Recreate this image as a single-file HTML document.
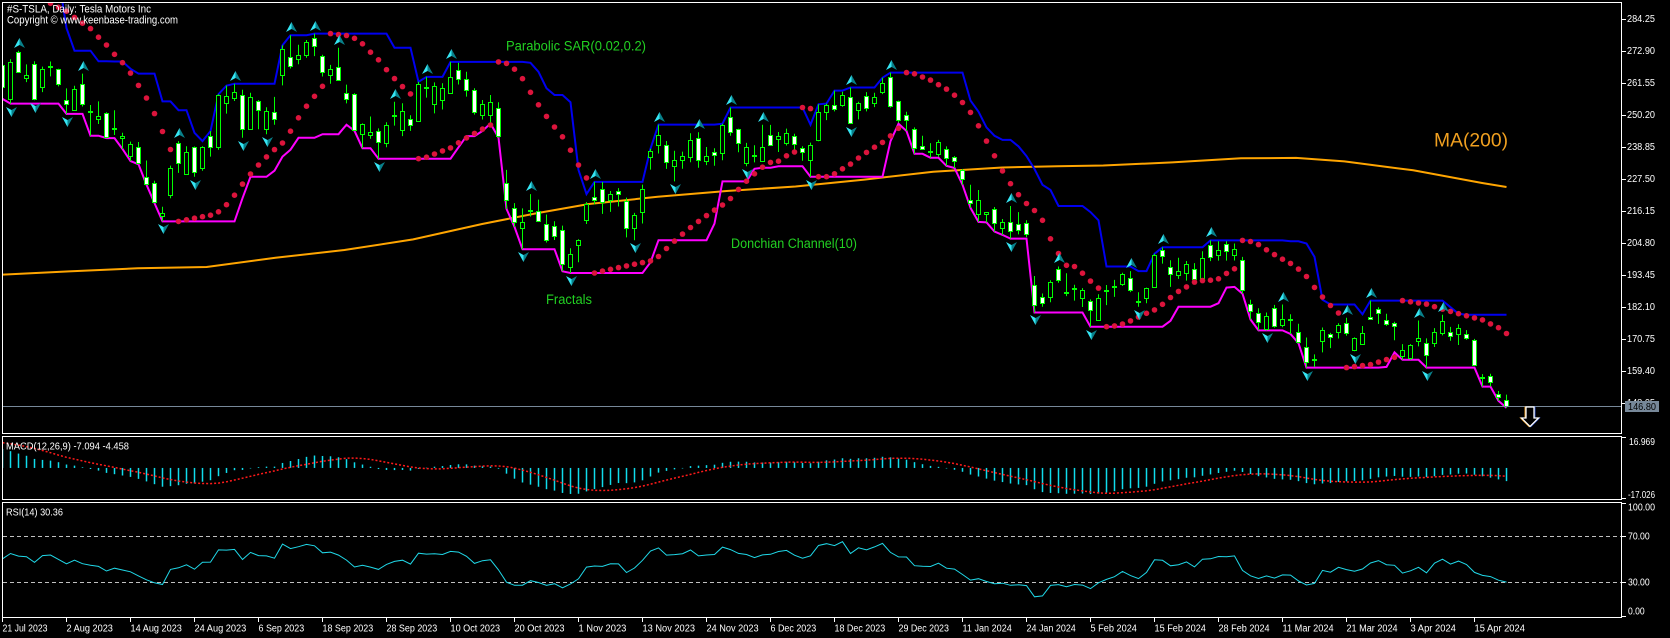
<!DOCTYPE html>
<html><head><meta charset="utf-8">
<style>
html,body{margin:0;padding:0;background:#000;width:1670px;height:638px;overflow:hidden}
svg{display:block}
text{font-family:"Liberation Sans",Arial,sans-serif}
</style></head><body>
<svg id="s" xmlns="http://www.w3.org/2000/svg" width="1670" height="638" viewBox="0 0 1670 638">
<rect width="1670" height="638" fill="#000"/>
<defs>
<clipPath id="cm"><rect x="3" y="3" width="1618.5" height="430"/></clipPath>
<clipPath id="cd"><rect x="3" y="437" width="1618.5" height="62"/></clipPath>
<clipPath id="cr"><rect x="3" y="503" width="1618.5" height="114"/></clipPath>
</defs>
<g id="gm" clip-path="url(#cm)"></g>
<g id="gd" clip-path="url(#cd)"></g>
<g id="gr" clip-path="url(#cr)">
<line x1="3" y1="536.5" x2="1622" y2="536.5" stroke="#c0c0c0" stroke-width="1" stroke-dasharray="4,3"/>
<line x1="3" y1="582.5" x2="1622" y2="582.5" stroke="#c0c0c0" stroke-width="1" stroke-dasharray="4,3"/>
</g>
<line x1="3" y1="406.5" x2="1622" y2="406.5" stroke="#778899" stroke-width="1"/>
<g fill="none" stroke="#fff" stroke-width="1">
<rect x="2.5" y="2.5" width="1619" height="431"/>
<rect x="2.5" y="436.5" width="1619" height="63"/>
<rect x="2.5" y="502.5" width="1619" height="115"/>
</g>
<g id="ticks" stroke="#fff" stroke-width="1"></g>

<!-- big down arrow -->
<g>
<polygon points="1525,407 1533,407 1533,418 1537.5,418 1529,426.5 1520.5,418 1525,418" fill="none" stroke="#e89a20" stroke-width="1"/>
<polygon points="1527,407 1535,407 1535,418 1539.5,418 1531,426.5 1522.5,418 1527,418" fill="none" stroke="#3050c0" stroke-width="1"/>
<polygon points="1526,407 1534,407 1534,418 1538.5,418 1530,426.5 1521.5,418 1526,418" fill="#000" stroke="#fff" stroke-width="1.3"/>
</g>

<!-- header -->
<text x="7" y="12.5" font-size="11" fill="#fff" textLength="144" lengthAdjust="spacingAndGlyphs">#S-TSLA, Daily:  Tesla Motors Inc</text>
<text x="7" y="23.5" font-size="11" fill="#fff" textLength="171" lengthAdjust="spacingAndGlyphs">Copyright © www.keenbase-trading.com</text>

<!-- indicator labels -->
<text x="506" y="50.5" font-size="13.5" fill="#22d022" textLength="140" lengthAdjust="spacingAndGlyphs">Parabolic SAR(0.02,0.2)</text>
<text x="731" y="248" font-size="13.5" fill="#22d022" textLength="126" lengthAdjust="spacingAndGlyphs">Donchian Channel(10)</text>
<text x="546" y="304" font-size="13.5" fill="#22d022" textLength="46" lengthAdjust="spacingAndGlyphs">Fractals</text>
<text x="1434" y="146.5" font-size="19.5" fill="#f0a020" textLength="74" lengthAdjust="spacingAndGlyphs">MA(200)</text>

<!-- price axis -->
<g font-size="10" fill="#fff">
<text x="1627" y="22.2" textLength="28" lengthAdjust="spacingAndGlyphs">284.25</text>
<text x="1627" y="54.2" textLength="28" lengthAdjust="spacingAndGlyphs">272.90</text>
<text x="1627" y="86.2" textLength="28" lengthAdjust="spacingAndGlyphs">261.55</text>
<text x="1627" y="118.2" textLength="28" lengthAdjust="spacingAndGlyphs">250.20</text>
<text x="1627" y="150.2" textLength="28" lengthAdjust="spacingAndGlyphs">238.85</text>
<text x="1627" y="182.2" textLength="28" lengthAdjust="spacingAndGlyphs">227.50</text>
<text x="1627" y="214.2" textLength="28" lengthAdjust="spacingAndGlyphs">216.15</text>
<text x="1627" y="246.2" textLength="28" lengthAdjust="spacingAndGlyphs">204.80</text>
<text x="1627" y="278.2" textLength="28" lengthAdjust="spacingAndGlyphs">193.45</text>
<text x="1627" y="310.2" textLength="28" lengthAdjust="spacingAndGlyphs">182.10</text>
<text x="1627" y="342.2" textLength="28" lengthAdjust="spacingAndGlyphs">170.75</text>
<text x="1627" y="374.2" textLength="28" lengthAdjust="spacingAndGlyphs">159.40</text>
<text x="1627" y="406.2" textLength="28" lengthAdjust="spacingAndGlyphs">148.05</text>
</g>
<rect x="1625" y="401" width="34" height="11" fill="#778899"/>
<text x="1628" y="410" font-size="10" fill="#000" textLength="28" lengthAdjust="spacingAndGlyphs">146.80</text>

<!-- MACD / RSI labels -->
<text x="6" y="449.5" font-size="10.5" fill="#fff" textLength="123" lengthAdjust="spacingAndGlyphs">MACD(12,26,9) -7.094 -4.458</text>
<text x="6" y="515.5" font-size="10.5" fill="#fff" textLength="57" lengthAdjust="spacingAndGlyphs">RSI(14) 30.36</text>
<g font-size="10" fill="#fff">
<text x="1629" y="445" textLength="26" lengthAdjust="spacingAndGlyphs">16.969</text>
<text x="1628" y="498" textLength="27" lengthAdjust="spacingAndGlyphs">-17.026</text>
<text x="1628" y="510.7" textLength="27" lengthAdjust="spacingAndGlyphs">100.00</text>
<text x="1628" y="539.7" textLength="21.7" lengthAdjust="spacingAndGlyphs">70.00</text>
<text x="1628" y="585.7" textLength="21.7" lengthAdjust="spacingAndGlyphs">30.00</text>
<text x="1628" y="614.7" textLength="16.7" lengthAdjust="spacingAndGlyphs">0.00</text>
</g>

<!-- time axis -->
<g font-size="10" fill="#fff">
<text x="2.5" y="631.5" textLength="45" lengthAdjust="spacingAndGlyphs">21 Jul 2023</text>
<text x="66.5" y="631.5" textLength="46.4" lengthAdjust="spacingAndGlyphs">2 Aug 2023</text>
<text x="130.5" y="631.5" textLength="51.4" lengthAdjust="spacingAndGlyphs">14 Aug 2023</text>
<text x="194.5" y="631.5" textLength="51.8" lengthAdjust="spacingAndGlyphs">24 Aug 2023</text>
<text x="258.5" y="631.5" textLength="45.7" lengthAdjust="spacingAndGlyphs">6 Sep 2023</text>
<text x="322.5" y="631.5" textLength="50.7" lengthAdjust="spacingAndGlyphs">18 Sep 2023</text>
<text x="386.5" y="631.5" textLength="50.7" lengthAdjust="spacingAndGlyphs">28 Sep 2023</text>
<text x="450.5" y="631.5" textLength="49.6" lengthAdjust="spacingAndGlyphs">10 Oct 2023</text>
<text x="514.5" y="631.5" textLength="50" lengthAdjust="spacingAndGlyphs">20 Oct 2023</text>
<text x="578.5" y="631.5" textLength="47.9" lengthAdjust="spacingAndGlyphs">1 Nov 2023</text>
<text x="642.5" y="631.5" textLength="52.5" lengthAdjust="spacingAndGlyphs">13 Nov 2023</text>
<text x="706.5" y="631.5" textLength="52.1" lengthAdjust="spacingAndGlyphs">24 Nov 2023</text>
<text x="770.5" y="631.5" textLength="45.7" lengthAdjust="spacingAndGlyphs">6 Dec 2023</text>
<text x="834.5" y="631.5" textLength="50.7" lengthAdjust="spacingAndGlyphs">18 Dec 2023</text>
<text x="898.5" y="631.5" textLength="50.4" lengthAdjust="spacingAndGlyphs">29 Dec 2023</text>
<text x="962.5" y="631.5" textLength="49.3" lengthAdjust="spacingAndGlyphs">11 Jan 2024</text>
<text x="1026.5" y="631.5" textLength="49.3" lengthAdjust="spacingAndGlyphs">24 Jan 2024</text>
<text x="1090.5" y="631.5" textLength="46.4" lengthAdjust="spacingAndGlyphs">5 Feb 2024</text>
<text x="1154.5" y="631.5" textLength="51.4" lengthAdjust="spacingAndGlyphs">15 Feb 2024</text>
<text x="1218.5" y="631.5" textLength="51.1" lengthAdjust="spacingAndGlyphs">28 Feb 2024</text>
<text x="1282.5" y="631.5" textLength="51.1" lengthAdjust="spacingAndGlyphs">11 Mar 2024</text>
<text x="1346.5" y="631.5" textLength="51.1" lengthAdjust="spacingAndGlyphs">21 Mar 2024</text>
<text x="1410.5" y="631.5" textLength="45.4" lengthAdjust="spacingAndGlyphs">3 Apr 2024</text>
<text x="1474.5" y="631.5" textLength="50.4" lengthAdjust="spacingAndGlyphs">15 Apr 2024</text>
</g>
</svg>
<script>
(function(){
var NS="http://www.w3.org/2000/svg";
function el(p,t,a){var e=document.createElementNS(NS,t);for(var k in a)e.setAttribute(k,a[k]);p.appendChild(e);return e;}
var D=[
[268.0,268.0,255.8,260.02],[255.85,269.85,254.12,269.06],[272.38,272.9,265.0,265.28],[263.25,268.04,261.75,264.35],[268.31,269.13,255.3,255.71],[259.86,267.25,258.23,266.44],[267.48,269.08,263.78,267.43],
[266.26,266.47,260.25,261.07],[255.57,259.52,250.49,254.11],[252.04,260.49,252.0,259.32],[260.97,264.77,253.11,253.86],[251.45,253.65,242.76,251.45],[248.84,254.9,246.91,249.7],[250.87,251.1,241.9,242.19],[245.4,251.8,243.0,245.34],[241.77,243.79,238.02,242.65],[235.7,240.66,233.75,239.76],[238.73,240.5,232.61,232.96],[228.02,233.97,225.38,225.6],[226.06,226.74,218.83,219.22],[214.12,217.58,212.36,215.49],[221.55,232.13,220.58,231.28],[240.25,240.82,229.55,233.19],[229.34,238.98,229.29,236.86],[238.66,238.92,228.18,230.04],[231.31,239.0,230.35,238.59],[242.58,244.38,235.35,238.82],[238.58,257.48,237.77,257.18],[254.2,260.51,250.59,256.9],[255.98,261.18,255.05,258.08],
[257.26,259.08,242.01,245.01],[245.0,258.0,244.86,256.49],[255.14,255.39,245.06,251.92],[245.07,252.81,243.27,251.49],[251.22,256.52,246.67,248.5],[264.27,274.85,260.61,273.58],[270.76,278.39,266.6,267.48],[270.07,274.98,268.1,271.3],[271.32,276.71,270.42,276.04],[277.55,278.98,271.0,274.39],[271.16,271.44,263.76,265.28],[264.35,267.85,261.2,266.5],[267.04,273.93,262.46,262.59],[257.85,260.86,254.21,255.7],[257.4,257.79,244.48,244.88],[243.38,247.1,238.31,246.99],[242.98,249.55,241.66,244.12],[244.26,245.33,234.58,240.5],[240.02,247.55,238.65,246.38],[250.0,254.77,246.35,250.22],
[244.81,254.28,242.62,251.6],[248.61,250.02,244.45,246.53],[248.14,261.86,247.6,261.16],[260.0,263.6,256.25,260.05],[253.98,261.65,250.65,260.53],[255.31,261.36,252.05,259.67],[257.75,268.94,257.65,263.62],[266.2,268.6,260.9,262.99],[262.92,265.41,256.63,258.87],[258.9,259.6,250.22,251.12],[250.05,255.4,248.48,253.92],[250.1,257.18,247.08,254.85],[252.7,254.63,242.08,242.68],[225.95,230.61,216.78,220.11],[217.01,218.86,210.42,211.99],[210.0,216.98,202.51,212.08],[216.5,222.05,214.11,216.52],[215.88,220.1,212.2,212.42],[211.32,214.8,204.88,205.76],[210.6,212.41,205.77,207.3],[209.28,210.88,194.67,197.36],[196.12,202.8,194.07,200.84],
[204.04,205.99,197.85,205.66],[212.97,219.2,211.45,218.51],[221.15,226.37,218.4,219.96],[223.98,226.32,215.0,219.27],[219.98,223.12,215.72,222.18],[223.15,224.15,217.64,222.11],[219.75,220.8,206.68,209.98],[210.03,215.38,205.69,214.65],[215.6,225.4,211.61,223.71],[235.03,238.14,230.72,237.41],[239.29,246.7,236.45,242.84],[239.49,240.88,230.96,233.59],[232.0,237.39,226.54,234.3],[234.04,237.1,231.02,235.6],[235.04,243.62,233.34,241.2],[242.04,244.01,231.4,234.21],[233.75,238.75,232.33,235.45],[236.89,238.33,232.1,236.08],[236.68,247.0,234.01,246.72],[249.21,252.75,242.76,244.14],[245.14,245.22,236.91,240.08],
[233.14,240.19,231.9,238.83],[235.75,239.37,233.29,235.58],[233.87,246.66,233.7,238.72],[242.92,246.57,239.17,239.37],[241.55,244.08,236.98,242.64],[240.27,245.27,239.27,243.84],[242.74,243.44,237.45,239.74],[238.55,238.99,233.87,237.01],[234.19,240.3,228.2,239.29],[241.22,253.88,240.79,251.05],[251.21,254.13,248.3,253.5],[253.78,258.74,251.36,252.08],[253.48,258.34,253.01,257.22],[256.41,259.84,247.0,247.14],[251.9,254.8,248.55,254.5],[256.76,258.22,251.37,252.54],[254.49,257.97,252.91,256.61],[258.35,263.34,257.52,261.44],[263.66,265.13,252.71,253.18],[255.1,255.19,247.43,248.48],
[250.08,251.25,244.41,248.42],[244.98,245.68,236.32,238.45],[239.25,242.7,237.73,237.93],[236.86,240.12,234.9,237.49],[236.14,241.25,235.3,240.45],[238.11,238.96,232.04,234.96],[235.1,235.5,231.29,233.94],[230.57,230.93,225.37,227.22],[220.08,225.34,217.15,218.89],[215.1,223.49,212.18,219.91],[214.86,215.67,212.01,215.55],[216.88,217.45,208.74,211.88],[209.99,213.19,207.56,212.19],[212.26,217.8,206.27,208.8],[211.3,215.65,207.75,209.14],[211.88,212.73,206.77,207.83],[189.7,193.0,180.06,182.63],[185.5,186.78,182.1,183.25],[185.63,191.48,183.67,190.93],[195.33,196.36,190.61,191.59],[187.0,193.97,185.85,187.29],
[188.5,189.88,184.28,188.86],[185.04,188.69,182.0,187.91],[184.26,184.68,175.01,181.06],[177.21,186.49,177.11,185.1],[188.18,189.79,182.68,187.58],[189.0,191.62,185.58,189.56],[190.18,194.12,189.48,193.57],[192.11,194.73,187.28,188.13],[183.99,187.26,182.11,184.02],[185.3,188.89,183.35,188.71],[189.16,200.88,188.86,200.45],[202.06,203.17,197.4,199.95],[196.13,198.6,189.13,193.76],[193.36,199.44,191.95,194.77],[194.0,198.32,191.36,197.41],[195.31,197.57,191.5,191.97],[192.29,201.78,192.0,199.4],[204.04,205.6,198.26,199.73],[200.42,205.3,198.44,202.04],[204.18,205.28,198.45,201.88],
[200.52,204.52,198.5,202.64],[198.73,199.75,186.72,188.14],[183.05,184.59,177.57,180.74],[179.99,181.58,173.7,176.54],[174.35,180.04,173.7,178.65],[181.5,182.73,174.7,175.34],[175.45,182.87,174.8,177.77],[177.77,179.43,172.41,177.54],[173.05,176.05,169.15,169.48],[167.77,171.17,160.51,162.5],[163.16,165.18,160.76,163.57],[170.02,174.72,165.9,173.8],[172.36,172.82,167.42,171.32],[173.0,176.25,170.82,175.66],[176.39,178.18,171.8,172.82],[166.69,171.2,166.3,170.83],[168.76,175.24,168.73,172.63],[178.58,184.25,177.38,177.67],[181.41,181.91,176.0,179.83],[177.45,179.57,175.3,175.79],
[176.17,176.75,170.21,175.22],[164.75,168.82,163.28,166.63],[164.02,168.82,163.28,168.38],[170.07,177.19,168.01,171.11],[169.08,170.86,160.51,164.9],[169.34,174.5,167.79,172.98],[172.91,179.22,171.92,176.88],[173.04,174.93,170.01,171.76],[172.55,175.88,168.51,174.6],[172.34,173.81,170.36,171.05],[170.24,170.69,161.38,161.48],[156.74,158.19,153.75,157.11],[157.64,158.33,153.78,155.45],[151.25,152.2,148.7,149.93],[148.97,150.94,146.22,146.8]
];
var N=D.length,O=[],H=[],L=[],C=[];
for(var i=0;i<N;i++){O.push(D[i][0]);H.push(D[i][1]);L.push(D[i][2]);C.push(D[i][3]);}
function X(i){return 2.5+8*i;}
function PY(p){return 18.7+(284.25-p)*2.8194;}
var gm=document.getElementById('gm'),gd=document.getElementById('gd'),gr=document.getElementById('gr'),gt=document.getElementById('ticks');

// ticks
var pt=[18.7,50.7,82.7,114.7,146.7,178.7,210.7,242.7,274.7,306.7,338.7,370.7,402.7];
pt.forEach(function(y){var yy=Math.round(y)+0.5;el(gt,'line',{x1:1622,x2:1626,y1:yy,y2:yy});});
[437.5,498.5,503.5,536.5,582.5,616.5].forEach(function(yy){el(gt,'line',{x1:1622,x2:1626,y1:yy,y2:yy});});
for(var k=0;k<24;k++){var tx=X(8*k);el(gt,'line',{x1:tx,x2:tx,y1:617.5,y2:622});}

// MA(200)
var MA=[[3,274.6],[68.9,271.4],[137.7,268.3],[206.6,267.0],[275.5,257.8],[344.4,250.0],[413.2,239.4],[482.1,224.0],[537.2,213.1],[588.9,204],[657.7,196.8],[726.6,191],[795.5,186.5],[864.4,179.6],[933.2,171.7],[1002.1,167.5],[1057.2,166.2],[1103.3,165.5],[1172.2,162.4],[1241,158.3],[1296.1,157.9],[1344.4,161.4],[1413.2,170.3],[1482.1,183],[1506.5,187]];
el(gm,'polyline',{points:MA.map(function(p){return p[0]+','+p[1];}).join(' '),fill:'none',stroke:'#ffa500','stroke-width':2});

// Donchian
var preH=[277.5,270.9,274.3,279.4,285.3,292.2,295.3,299.3,280.9];
var preL=[265.1,266.4,267.6,270.6,276.3,279.6,286.0,289.5,261.2];
var HH=preH.concat(H),LL=preL.concat(L);
var up=[],lo=[];
for(i=0;i<N;i++){var mx=-1e9,mn=1e9;for(var j=i;j<=i+9;j++){if(HH[j]>mx)mx=HH[j];if(LL[j]<mn)mn=LL[j];}
 up.push(X(i)+','+PY(mx).toFixed(1));lo.push(X(i)+','+PY(mn).toFixed(1));}
el(gm,'polyline',{points:up.join(' '),fill:'none',stroke:'#0000f0','stroke-width':2});
el(gm,'polyline',{points:lo.join(' '),fill:'none',stroke:'#ff00ff','stroke-width':2});

// candles
for(i=0;i<N;i++){var x=X(i);
 el(gm,'line',{x1:x,x2:x,y1:PY(H[i]).toFixed(1),y2:PY(L[i]).toFixed(1),stroke:'#00ff00','stroke-width':1});
 var t=Math.round(PY(Math.max(O[i],C[i])))+0.5,b=Math.round(PY(Math.min(O[i],C[i])))+0.5;
 el(gm,'rect',{x:x-2,y:t,width:4,height:Math.max(b-t,1),fill:(C[i]>=O[i])?'#000':'#fff',stroke:'#00ff00','stroke-width':1});
}

// Parabolic SAR
var sar=289.7,ep=254.12,af=0.04,upT=false,S=[[6,sar]];
for(i=7;i<N;i++){var s=sar+af*(ep-sar);
 if(upT){s=Math.min(s,L[i-1],L[i-2]);if(L[i]<s){upT=false;s=ep;ep=L[i];af=0.02;}else if(H[i]>ep){ep=H[i];af=Math.min(af+0.02,0.2);}}
 else{s=Math.max(s,H[i-1],H[i-2]);if(H[i]>s){upT=true;s=ep;ep=H[i];af=0.02;}else if(L[i]<ep){ep=L[i];af=Math.min(af+0.02,0.2);}}
 sar=s;S.push([i,s]);}
S.forEach(function(p){el(gm,'circle',{cx:X(p[0]),cy:PY(p[1]).toFixed(1),r:2.8,fill:'#dc143c'});});

// Fractals
function upA(cx,b){var t=b-10;
 el(gm,'polygon',{points:cx+','+t+' '+cx+','+(b-3)+' '+(cx-5.5)+','+b,fill:'#36e6f4'});
 el(gm,'polygon',{points:cx+','+t+' '+(cx+5.5)+','+b+' '+cx+','+(b-3),fill:'#08808a'});}
function dnA(cx,t){var b=t+10;
 el(gm,'polygon',{points:cx+','+b+' '+cx+','+(t+3)+' '+(cx-5.5)+','+t,fill:'#36e6f4'});
 el(gm,'polygon',{points:cx+','+b+' '+(cx+5.5)+','+t+' '+cx+','+(t+3),fill:'#08808a'});}
for(i=0;i<N-2;i++){var a=i+9;
 if(H[i]>H[i+1]&&H[i]>H[i+2]&&H[i]>=HH[a-1]&&H[i]>=HH[a-2])upA(X(i)+1,Math.round(PY(H[i]))-3);
 if(L[i]<L[i+1]&&L[i]<L[i+2]&&L[i]<=LL[a-1]&&L[i]<=LL[a-2])dnA(X(i)+1,Math.round(PY(L[i]))+3);}

// MACD & RSI
var W=[207.52,213.97,217.61,221.31,224.57,234.86,244.40,249.83,258.71,256.79,255.90,260.54,274.45,259.46,264.61,256.60,241.05,250.21,256.24,257.50,261.77,279.82,282.48,276.54,274.43,269.61,269.79,271.99,277.90,281.38,290.38,293.34,291.26,262.90];
var CC=W.concat(C),off=W.length;
var e12=195,e26=185,M=[];
CC.forEach(function(c){e12+=(2/13)*(c-e12);e26+=(2/27)*(c-e26);M.push(e12-e26);});
function MY(v){return 436.5+(16.969-v)*1.8532;}
var z=MY(0),sig=[];
for(i=0;i<N;i++){var kk=i+off,v=M[kk];
 var y1=MY(v);el(gd,'rect',{x:X(i)-0.75,y:Math.min(z,y1),width:1.5,height:Math.max(Math.abs(y1-z),0.5),fill:'#10dcec'});
 var sm=0;for(j=kk-8;j<=kk;j++)sm+=M[j];sig.push(X(i)+','+MY(sm/9).toFixed(1));}
el(gd,'polyline',{points:sig.join(' '),fill:'none',stroke:'#ff1a1a','stroke-width':1.5,'stroke-dasharray':'2,2'});

var ag=0,al=0;for(var q=1;q<=14;q++){var d=CC[q]-CC[q-1];if(d>0)ag+=d;else al-=d;}ag/=14;al/=14;
var R=[];for(q=15;q<CC.length;q++){var d2=CC[q]-CC[q-1];ag=(ag*13+Math.max(d2,0))/14;al=(al*13+Math.max(-d2,0))/14;R[q]=100-100/(1+ag/al);}
function RY(v){return 616.8-v*1.15;}
var rp=[];for(i=0;i<N;i++){rp.push(X(i)+','+RY(R[i+off]).toFixed(1));}
el(gr,'polyline',{points:rp.join(' '),fill:'none',stroke:'#20d8e8','stroke-width':1});
})();
</script>
</body></html>
